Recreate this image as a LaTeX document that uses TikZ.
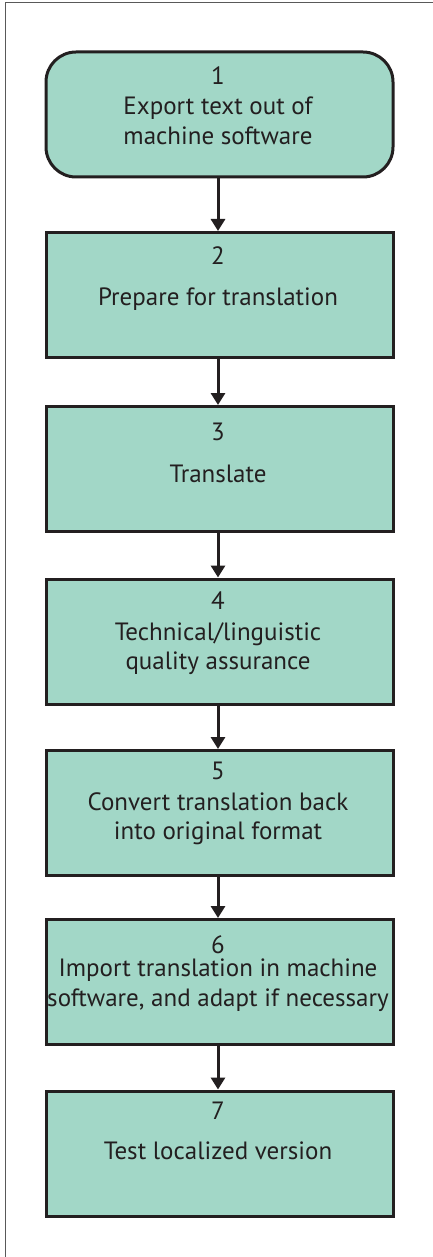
\documentclass[tikz,border=0pt]{standalone}
\usepackage{fontspec}
\setmainfont{PT Sans}
\usetikzlibrary{arrows.meta}
\definecolor{boxfill}{RGB}{162,215,199}
\definecolor{ink}{RGB}{35,31,32}
\begin{document}
\begin{tikzpicture}[x=1pt,y=-1pt,
  stepbox/.style={draw=ink,fill=boxfill,line width=3pt,minimum width=347pt,minimum height=125pt,inner sep=0pt},
  startbox/.style={stepbox,rounded corners=30pt},
  lbl/.style={anchor=base,text=ink,font=\fontsize{25}{28}\selectfont,inner sep=0pt},
  flow/.style={draw=ink,line width=3pt,-{Triangle[width=14pt,length=12pt]}}]
\useasboundingbox (0,0) rectangle (432,1257);
\draw[line width=1pt,draw=black!65] (5.5,1300) -- (5.5,3) -- (440,3);
\node[startbox] (b1) at (219.5,114.5) {};
\node[stepbox] (b2) at (219.5,295) {};
\node[stepbox] (b3) at (219.5,469) {};
\node[stepbox] (b4) at (219.5,641.5) {};
\node[stepbox] (b5) at (219.5,813) {};
\node[stepbox] (b6) at (219.5,982) {};
\node[stepbox] (b7) at (219.5,1153.5) {};
\node[lbl] (t1a) at (218,85) {1};
\node[lbl] (t1b) at (218,115) {Export text out of};
\node[lbl] (t1c) at (218,145) {machine software};
\node[lbl] (t2a) at (218,264) {2};
\node[lbl] (t2b) at (218,305) {Prepare for translation};
\node[lbl] (t3a) at (218,440) {3};
\node[lbl] (t3b) at (218,482) {Translate};
\node[lbl] (t4a) at (218,609) {4};
\node[lbl] (t4b) at (218,640) {Technical/linguistic};
\node[lbl] (t4c) at (218,669) {quality assurance};
\node[lbl] (t5a) at (218,779) {5};
\node[lbl] (t5b) at (218,810) {Convert translation back};
\node[lbl] (t5c) at (218,839) {into original format};
\node[lbl] (t6a) at (218,953) {6};
\node[lbl] (t6b) at (218,976) {Import translation in machine};
\node[lbl] (t6c) at (218,1006) {software, and adapt if necessary};
\node[lbl] (t7a) at (218,1119) {7};
\node[lbl] (t7b) at (218,1159) {Test localized version};
\draw[flow] (b1.south -| 218,0) -- (b2.north -| 218,0);
\draw[flow] (b2.south -| 218,0) -- (b3.north -| 218,0);
\draw[flow] (b3.south -| 218,0) -- (b4.north -| 218,0);
\draw[flow] (b4.south -| 218,0) -- (b5.north -| 218,0);
\draw[flow] (b5.south -| 218,0) -- (b6.north -| 218,0);
\draw[flow] (b6.south -| 218,0) -- (b7.north -| 218,0);
\end{tikzpicture}
\end{document}
